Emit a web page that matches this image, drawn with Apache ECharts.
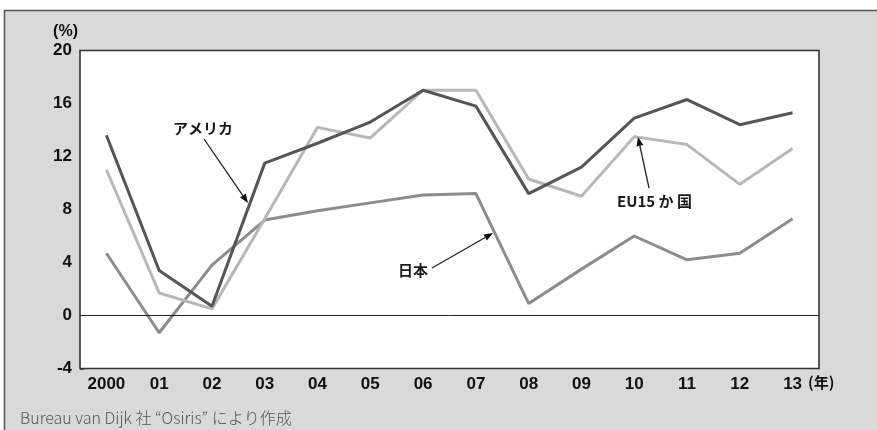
<!DOCTYPE html>
<html>
<head>
<meta charset="utf-8">
<script src="https://cdn.jsdelivr.net/npm/echarts@6/dist/echarts.min.js"></script>
<style>
  html, body { margin: 0; padding: 0; background: #fff; }
  #chart { width: 877px; height: 430px; }
</style>
</head>
<body>
<div id="chart"></div>
<script>
// 年別の推移（%）
const years = ['2000', '01', '02', '03', '04', '05', '06', '07', '08', '09', '10', '11', '12', '13'];
const usa   = [13.6, 3.4, 0.7, 11.5, 13.0, 14.6, 17.0, 15.8, 9.2, 11.2, 14.9, 16.3, 14.4, 15.3];
const eu15  = [11.0, 1.7, 0.5, 7.3, 14.2, 13.4, 17.0, 17.0, 10.3, 9.0, 13.5, 12.9, 9.9, 12.6];
const japan = [4.7, -1.3, 3.8, 7.2, 7.9, 8.5, 9.1, 9.2, 0.9, 3.5, 6.0, 4.2, 4.7, 7.3];
const yTicks = [-4, 0, 4, 8, 12, 16, 20];

const LABEL_FONT = '"Liberation Sans", Arial, sans-serif';
const JP_FONT = '"Noto Sans CJK JP", sans-serif';

const chart = echarts.init(document.getElementById('chart'), null, { renderer: 'canvas' });

// 注記の矢印（線＋三角の矢じり）
function arrow(x1, y1, x2, y2) {
  const ang = Math.atan2(y2 - y1, x2 - x1);
  const len = 9, half = 3.5;
  const bx = x2 - len * Math.cos(ang), by = y2 - len * Math.sin(ang);
  const px = -Math.sin(ang) * half, py = Math.cos(ang) * half;
  return [
    { type: 'line', shape: { x1: x1, y1: y1, x2: bx, y2: by },
      style: { stroke: '#222', lineWidth: 1.3 }, z: 20 },
    { type: 'polygon', shape: { points: [[x2, y2], [bx + px, by + py], [bx - px, by - py]] },
      style: { fill: '#111' }, z: 20 }
  ];
}

function note(text, x, y) {
  return { type: 'text', x: x, y: y, z: 20,
    style: { text: text, font: 'bold 15px ' + JP_FONT, fill: '#1a1a1a',
             textAlign: 'left', textVerticalAlign: 'middle' } };
}

const seriesStyle = (name, data, color) => ({
  name: name, type: 'line', data: data, symbol: 'none', smooth: false,
  lineStyle: { color: color, width: 3 }, z: 3
});

chart.setOption({
  backgroundColor: '#fff',
  animation: false,
  grid: { left: 80, right: 58, top: 50.5, bottom: 61.5, show: true,
          backgroundColor: '#fff', borderColor: '#333', borderWidth: 1.6, z: 1 },
  xAxis: {
    type: 'category', data: years, boundaryGap: true,
    axisLine: { show: false, onZero: false }, axisTick: { show: false },
    axisLabel: { color: '#111', fontFamily: LABEL_FONT, fontSize: 17, fontWeight: 'bold', margin: 7 },
    name: '(年)', nameLocation: 'end', nameGap: -18,
    nameTextStyle: { color: '#111', fontFamily: JP_FONT, fontSize: 15, fontWeight: 'bold',
                     verticalAlign: 'top', padding: [6, 0, 0, 0] }
  },
  yAxis: {
    type: 'value', min: yTicks[0], max: yTicks[yTicks.length - 1], interval: 4,
    axisLine: { show: false },
    axisTick: { show: true, inside: true, length: 4, lineStyle: { color: '#333', width: 1.5 } },
    splitLine: { show: false },
    axisLabel: { color: '#111', fontFamily: LABEL_FONT, fontSize: 17, fontWeight: 'bold', margin: 8 },
    name: '(%)', nameLocation: 'end', nameGap: 11,
    nameTextStyle: { color: '#111', fontFamily: LABEL_FONT, fontSize: 16, fontWeight: 'bold',
                     align: 'right', padding: [0, 2, 0, 0] }
  },
  series: [
    seriesStyle('日本', japan, '#8c8c8c'),
    seriesStyle('EU15か国', eu15, '#b7b7b7'),
    Object.assign(seriesStyle('アメリカ', usa, '#555555'), {
      markLine: {
        silent: true, symbol: 'none', label: { show: false },
        lineStyle: { color: '#222', width: 1, type: 'solid' },
        data: [{ yAxis: 0 }]
      }
    })
  ],
  graphic: [
    // 外枠と地の色
    { type: 'rect', z: -10, silent: true,
      shape: { x: 4.5, y: 10.5, width: 1000, height: 1000 },
      style: { fill: '#d9d9d9', stroke: '#555', lineWidth: 1.5 } },
    note('アメリカ', 173, 128),
    ...arrow(204, 139, 248, 203),
    note('EU15 か 国', 617, 201),
    ...arrow(649, 188, 638, 137),
    note('日本', 398, 270),
    ...arrow(432, 268, 493, 233),
    { type: 'text', x: 20, y: 418, z: 20,
      style: { text: 'Bureau van Dijk 社 “Osiris” により作成', font: '300 16px ' + JP_FONT,
               fill: '#555', textAlign: 'left', textVerticalAlign: 'middle' } }
  ]
});
</script>
</body>
</html>
